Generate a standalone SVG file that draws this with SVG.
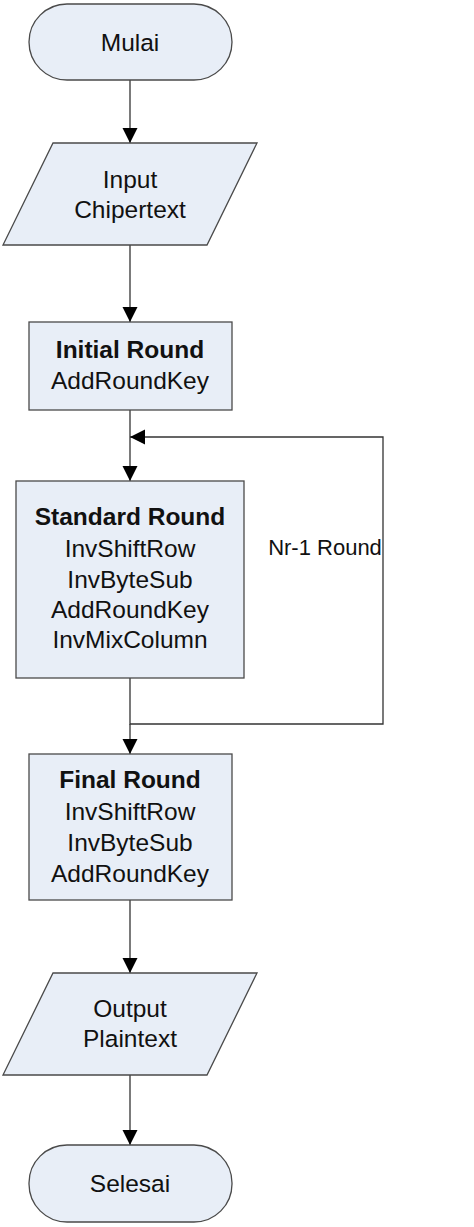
<svg xmlns="http://www.w3.org/2000/svg" width="474" height="1227" viewBox="0 0 474 1227">
<style>
.shape{fill:#E8EEF7;stroke:#4A4A4A;stroke-width:1.3}
.t{font-family:"Liberation Sans",Arial,sans-serif;font-size:24.5px;fill:#111;text-anchor:middle}
.lbl{font-size:22px}
.b{font-weight:bold}
.c{fill:none;stroke:#333;stroke-width:1.3}
</style>
<defs>
<marker id="ah" markerUnits="userSpaceOnUse" markerWidth="16" markerHeight="16" viewBox="0 0 16 16" refX="15" refY="8" orient="auto">
<path d="M0,0.5 L15,8 L0,15.5 Z" fill="#000"/>
</marker>
</defs>
<rect width="474" height="1227" fill="#fff"/>
<g id="connectors">
<line class="c" x1="130" y1="80" x2="130" y2="143" marker-end="url(#ah)"/>
<line class="c" x1="130" y1="245" x2="130" y2="322" marker-end="url(#ah)"/>
<line class="c" x1="130" y1="410" x2="130" y2="481" marker-end="url(#ah)"/>
<polyline class="c" points="130,678 130,724 383,724 383,437 130,437" marker-end="url(#ah)"/>
<line class="c" x1="130" y1="724" x2="130" y2="754" marker-end="url(#ah)"/>
<line class="c" x1="130" y1="900" x2="130" y2="973" marker-end="url(#ah)"/>
<line class="c" x1="130" y1="1075" x2="130" y2="1145" marker-end="url(#ah)"/>
<text class="t lbl" x="325" y="555">Nr-1 Round</text>
</g>
<g id="mulai">
<rect class="shape" x="29" y="4" width="203" height="76" rx="38" ry="38"/>
<text class="t" x="130" y="51">Mulai</text>
</g>
<g id="input">
<polygon class="shape" points="53,143 257,143 207,245 3,245"/>
<text class="t" x="130" y="188">Input</text>
<text class="t" x="130" y="218">Chipertext</text>
</g>
<g id="initial">
<rect class="shape" x="29" y="322" width="203" height="88"/>
<text class="t b" x="130" y="358">Initial Round</text>
<text class="t" x="130" y="389">AddRoundKey</text>
</g>
<g id="standard">
<rect class="shape" x="16" y="481" width="228" height="197"/>
<text class="t b" x="130" y="525">Standard Round</text>
<text class="t" x="130" y="557">InvShiftRow</text>
<text class="t" x="130" y="588">InvByteSub</text>
<text class="t" x="130" y="618">AddRoundKey</text>
<text class="t" x="130" y="648">InvMixColumn</text>
</g>
<g id="final">
<rect class="shape" x="29" y="754" width="203" height="146"/>
<text class="t b" x="130" y="788">Final Round</text>
<text class="t" x="130" y="820">InvShiftRow</text>
<text class="t" x="130" y="851">InvByteSub</text>
<text class="t" x="130" y="882">AddRoundKey</text>
</g>
<g id="output">
<polygon class="shape" points="53,973 257,973 207,1075 3,1075"/>
<text class="t" x="130" y="1017">Output</text>
<text class="t" x="130" y="1047">Plaintext</text>
</g>
<g id="selesai">
<rect class="shape" x="29" y="1145" width="203" height="77" rx="38" ry="38"/>
<text class="t" x="130" y="1192">Selesai</text>
</g>
</svg>
